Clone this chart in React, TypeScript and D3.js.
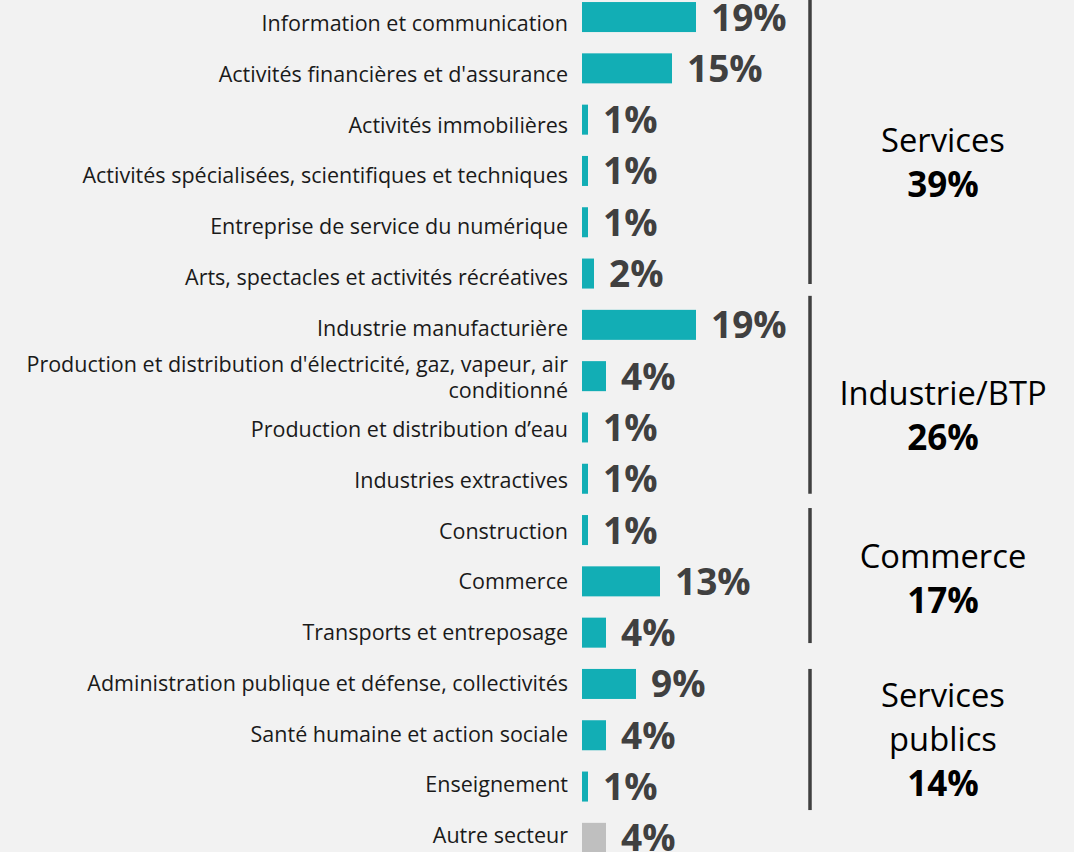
import React from "react";
import * as d3 from "d3";

const categories: string[] = [
  "Information et communication",
  "Activités financières et d'assurance",
  "Activités immobilières",
  "Activités spécialisées, scientifiques et techniques",
  "Entreprise de service du numérique",
  "Arts, spectacles et activités récréatives",
  "Industrie manufacturière",
  "Production et distribution d'électricité, gaz, vapeur, air|conditionné",
  "Production et distribution d’eau",
  "Industries extractives",
  "Construction",
  "Commerce",
  "Transports et entreposage",
  "Administration publique et défense, collectivités",
  "Santé humaine et action sociale",
  "Enseignement",
  "Autre secteur",
];

const values: number[] = [19, 15, 1, 1, 1, 2, 19, 4, 1, 1, 1, 13, 4, 9, 4, 1, 4];

const groupLines: string[][] = [["Services"], ["Industrie/BTP"], ["Commerce"], ["Services", "publics"]];
const groupTotals: number[] = [39, 26, 17, 14];
const groupFirst: number[] = [0, 6, 10, 13];
const groupLast: number[] = [5, 9, 12, 15];

// layout tweaks (pixels)
const bracketTop = [-20, -14, -7, 0];
const bracketBottom = [-4.5, 0, -4.6, 8.5];
const labelShift = [7, 3, -13, -28];

const W = 1074;
const H = 852;
const TEAL = "#12aeb5";
const GREY = "#bfbfbf";
const FONT = "'Open Sans', 'DejaVu Sans', sans-serif";

export default function App() {
  const x = d3.scaleLinear().domain([0, 19]).range([582, 696]);
  const y = d3
    .scaleBand<string>()
    .domain(categories)
    .range([-8.6, 863.5])
    .paddingInner(0.415)
    .paddingOuter(0.2075);
  const bw = y.bandwidth();
  // category label baselines use their own slightly tighter spacing
  const yLabel = d3.scalePoint<string>().domain(categories).range([31, 843]);

  return (
    <svg
      width={W}
      height={H}
      style={{ position: "absolute", left: 0, top: 0, display: "block" }}
      fontFamily={FONT}
    >
      <rect x={0} y={0} width={W} height={H} fill="#f2f2f2" />
      {categories.map((c, i) => {
        const y0 = y(c) as number;
        const cy = y0 + bw / 2;
        const lb = yLabel(c) as number;
        const lines = c.split("|");
        const isOther = i === categories.length - 1;
        return (
          <g key={c}>
            <rect
              x={x(0)}
              y={y0}
              width={x(values[i]) - x(0)}
              height={bw}
              fill={isOther ? GREY : TEAL}
            />
            {lines.length === 1 ? (
              <text x={568} y={lb} textAnchor="end" fontSize={21.5} fill="#1a1a1a">
                {lines[0]}
              </text>
            ) : (
              <text x={568} y={lb - 14} textAnchor="end" fontSize={21.5} fill="#1a1a1a">
                {lines.map((l, k) => (
                  <tspan key={k} x={568} dy={k === 0 ? 0 : 26}>
                    {l}
                  </tspan>
                ))}
              </text>
            )}
            <text
              x={x(values[i]) + 15}
              y={cy + 13.5}
              fontSize={37}
              fontWeight="bold"
              fill="#404040"
            >
              {values[i] + "%"}
            </text>
          </g>
        );
      })}
      {groupLines.map((lines, g) => {
        const top = (y(categories[groupFirst[g]]) as number) + bracketTop[g];
        const bottom = (y(categories[groupLast[g]]) as number) + bw + bracketBottom[g];
        const center =
          ((y(categories[groupFirst[g]]) as number) + (y(categories[groupLast[g]]) as number) + bw) / 2;
        const base = center + labelShift[g];
        return (
          <g key={g}>
            <line x1={810} x2={810} y1={top} y2={bottom} stroke="#404040" strokeWidth={3.5} />
            <text x={943} y={base} textAnchor="middle" fontSize={32.7} fill="#000">
              {lines.map((l, k) => (
                <tspan key={k} x={943} dy={k === 0 ? 0 : 44}>
                  {l}
                </tspan>
              ))}
            </text>
            <text
              x={943}
              y={base + 45 + (lines.length - 1) * 44}
              textAnchor="middle"
              fontSize={35}
              fontWeight="bold"
              fill="#000"
            >
              {groupTotals[g] + "%"}
            </text>
          </g>
        );
      })}
    </svg>
  );
}
